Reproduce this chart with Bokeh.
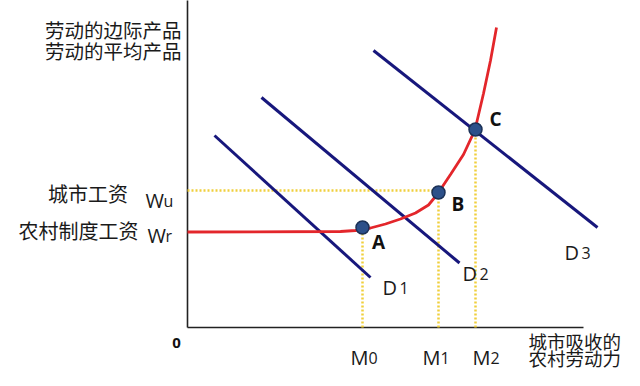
from bokeh.plotting import figure
from bokeh.models import Range1d
from bokeh.core.properties import value
from bokeh.embed import file_html
from bokeh.resources import INLINE

# ---- data (chart units: x = rural labour absorbed by the city, y = wage / product of labour) ----
# labour supply curve (flat at rural wage, then rising)
curve_x = [0, 153, 168, 183, 198, 213, 228, 241, 250, 263, 276, 287.5, 296, 303, 309]
curve_y = [95.5, 96, 97, 99.5, 103.5, 108.5, 114.5, 122.5, 133.5, 153, 173, 197.7, 234, 267, 300]

# labour demand lines D1, D2, D3 (start / end)
demand_x0 = [27, 74, 186]
demand_y0 = [192, 230, 277]
demand_x1 = [183, 272, 410]
demand_y1 = [50, 64.5, 100]
demand_main = ["D", "D", "D"]
demand_sub = ["1", "2", "3"]
demand_lab_x = [195, 275, 377]
demand_lab_y = [40, 54, 75]

# equilibrium points
point_names = ["A", "B", "C"]
point_x = [175, 251, 288]
point_y = [100, 135, 198]
point_lab_x = [191, 270.5, 308]
point_lab_y = [86, 124, 209]

# x-axis markers
m_main = ["M", "M", "M"]
m_sub = ["0", "1", "2"]
m_lab_x = [163, 235, 285]
m_lab_y = [-30, -30, -30]

# wage levels
wage_names = ["城市工资", "农村制度工资"]
wage_main = ["W", "W"]
wage_sub = ["u", "r"]
wage_y = [137, 95.5]

# axis titles
y_title = ["劳动的边际产品", "劳动的平均产品"]
x_title = ["城市吸收的", "农村劳动力"]
axis_top = 330
axis_right = 396

CJK = value("Noto Sans CJK SC")
LAT = value("Open Sans")
INK = "#1a1a1a"
YEL = "#f0cf3c"
NAVY = "#17177c"
RED = "#e3262b"

p = figure(width=624, height=370, output_backend="svg", toolbar_location=None,
           x_range=Range1d(-187, 437), y_range=Range1d(-43, 327),
           x_axis_location=None, y_axis_location=None, min_border=0)
p.grid.visible = False
p.outline_line_color = None
p.background_fill_color = "white"

# axes
p.line([0, 0], [axis_top, 0], line_color="#222222", line_width=1.6)
p.line([0, axis_right], [0, 0], line_color="#222222", line_width=1.6)

# dotted guide lines
p.segment(x0=[0], y0=[wage_y[0]], x1=[point_x[1]], y1=[wage_y[0]],
          line_color=YEL, line_width=2.5, line_dash="2 2")
p.segment(x0=point_x, y0=[0] * 3, x1=point_x, y1=point_y,
          line_color=YEL, line_width=2.5, line_dash="2 2")

# demand lines
p.segment(x0=demand_x0, y0=demand_y0, x1=demand_x1, y1=demand_y1,
          line_color=NAVY, line_width=3)

# supply curve
p.line(curve_x, curve_y, line_color=RED, line_width=2.8)

# points
p.scatter(point_x, point_y, size=13, fill_color="#2d5089", line_color="#1b3157", line_width=1.5)

# point labels
p.text(point_lab_x, point_lab_y, text=point_names, text_font=LAT, text_font_style="bold",
       text_font_size="19px", text_align="center", text_baseline="middle", text_color="#111111")

# demand labels
p.text(demand_lab_x, demand_lab_y, text=demand_main, text_font=LAT, text_font_size="20px",
       text_align="left", text_baseline="alphabetic", text_color=INK)
p.text(demand_lab_x, demand_lab_y, text=demand_sub, text_font=LAT, text_font_size="16px",
       text_align="left", text_baseline="alphabetic", text_color=INK, x_offset=17)

# M labels
p.text(m_lab_x, m_lab_y, text=m_main, text_font=LAT, text_font_size="20px",
       text_align="left", text_baseline="alphabetic", text_color=INK)
p.text(m_lab_x, m_lab_y, text=m_sub, text_font=LAT, text_font_size="16px",
       text_align="left", text_baseline="alphabetic", text_color=INK, x_offset=18)

# wage labels
p.text([-59.5, -49], [134.3, 97], text=wage_names, text_font=CJK, text_font_size="20px",
       text_align="right", text_baseline="middle", text_color=INK)
p.text([-42, -40], [127, 92], text=wage_main, text_font=LAT, text_font_size="20px",
       text_align="left", text_baseline="alphabetic", text_color=INK)
p.text([-42, -40], [127, 92], text=wage_sub, text_font=LAT, text_font_size="16px",
       text_align="left", text_baseline="alphabetic", text_color=INK, x_offset=18)

# axis titles
p.text([-6, -6], [298, 277], text=y_title, text_font=CJK, text_font_size="19.5px",
       text_align="right", text_baseline="middle", text_color=INK)
p.text([341, 341], [-13, -30], text=x_title, text_font=CJK, text_font_size="18.5px",
       text_align="left", text_baseline="middle", text_color=INK)

# origin
p.text([-11], [-15], text=["0"], text_font=LAT, text_font_style="bold", text_font_size="15px",
       text_align="center", text_baseline="middle", text_color="#111111")

open("out.html", "w").write(file_html(p, INLINE))
